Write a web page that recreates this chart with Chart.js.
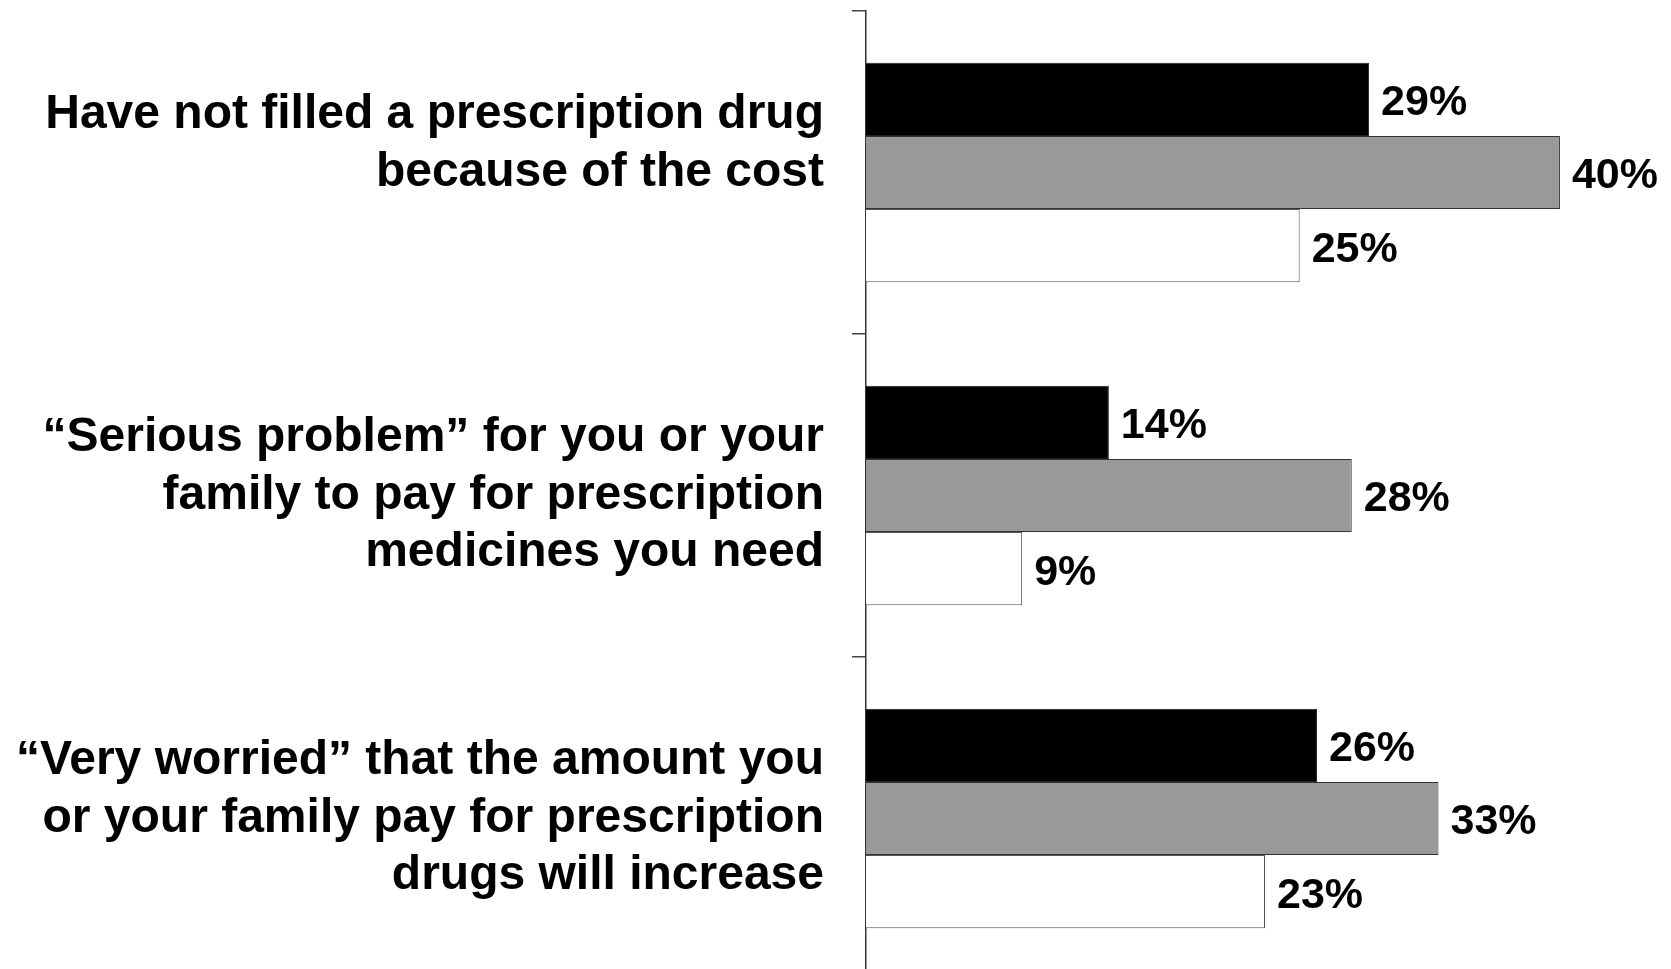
<!DOCTYPE html>
<html>
<head>
<meta charset="utf-8">
<title>Prescription drug costs</title>
<script src="https://cdn.jsdelivr.net/npm/chart.js@4"></script>
<style>
  html, body { margin: 0; padding: 0; background: #fff; overflow: hidden; }
  #wrap { position: relative; width: 1671px; height: 980px; }
</style>
</head>
<body>
<div id="wrap"><canvas id="drugChart"></canvas></div>
<script>
// Survey items (multi-line labels, trailing blank line lifts the first one a bit)
const categories = [
  ["Have not filled a prescription drug", "because of the cost", ""],
  ["\u201cSerious problem\u201d for you or your", "family to pay for prescription", "medicines you need"],
  ["\u201cVery worried\u201d that the amount you", "or your family pay for prescription", "drugs will increase"]
];

// Percent values per group
const group1Values = [29, 14, 26];
const group2Values = [40, 28, 33];
const group3Values = [25, 9, 23];

const xMin = 0;
const xMax = 46;

const FONT = "'Liberation Sans', Arial, Helvetica, sans-serif";

// Prints "NN%" just right of every bar
const valueLabels = {
  id: "valueLabels",
  afterDatasetsDraw(chart) {
    const ctx = chart.ctx;
    ctx.save();
    ctx.font = "bold 43px " + FONT;
    ctx.fillStyle = "#000";
    ctx.textAlign = "left";
    ctx.textBaseline = "middle";
    chart.data.datasets.forEach((ds, i) => {
      const meta = chart.getDatasetMeta(i);
      meta.data.forEach((bar, j) => {
        ctx.fillText(ds.data[j] + "%", bar.x + 12, bar.y + 4);
      });
    });
    ctx.restore();
  }
};

const ctx = document.getElementById("drugChart").getContext("2d");
new Chart(ctx, {
  type: "bar",
  data: {
    labels: categories,
    datasets: [
      {
        label: "Group 1",
        data: group1Values,
        backgroundColor: "#000000",
        borderColor: "#222222",
        borderWidth: 1
      },
      {
        label: "Group 2",
        data: group2Values,
        backgroundColor: "#999999",
        borderColor: "#333333",
        borderWidth: 1
      },
      {
        label: "Group 3",
        data: group3Values,
        backgroundColor: "#ffffff",
        borderColor: "#555555",
        borderWidth: 1
      }
    ]
  },
  options: {
    indexAxis: "y",
    responsive: true,
    maintainAspectRatio: false,
    animation: false,
    layout: { padding: { top: 11, right: 7, bottom: 0, left: 0 } },
    datasets: {
      bar: { categoryPercentage: 0.68, barPercentage: 1.0 }
    },
    plugins: {
      legend: { display: false },
      tooltip: { enabled: false }
    },
    scales: {
      x: {
        display: false,
        min: xMin,
        max: xMax
      },
      y: {
        // fixed axis width, and no extra room reserved for the tall labels
        afterFit(scale) {
          scale.width = 866;
          scale.paddingTop = 0;
          scale.paddingBottom = 0;
        },
        border: { display: true, color: "#333333", width: 1.5 },
        grid: {
          drawOnChartArea: false,
          drawTicks: true,
          tickLength: 14,
          color: "#444444",
          lineWidth: 1.5
        },
        ticks: {
          color: "#000",
          padding: 28,
          font: { family: FONT, size: 48, weight: "bold", lineHeight: 1.2 }
        }
      }
    }
  },
  plugins: [valueLabels]
});
</script>
</body>
</html>
